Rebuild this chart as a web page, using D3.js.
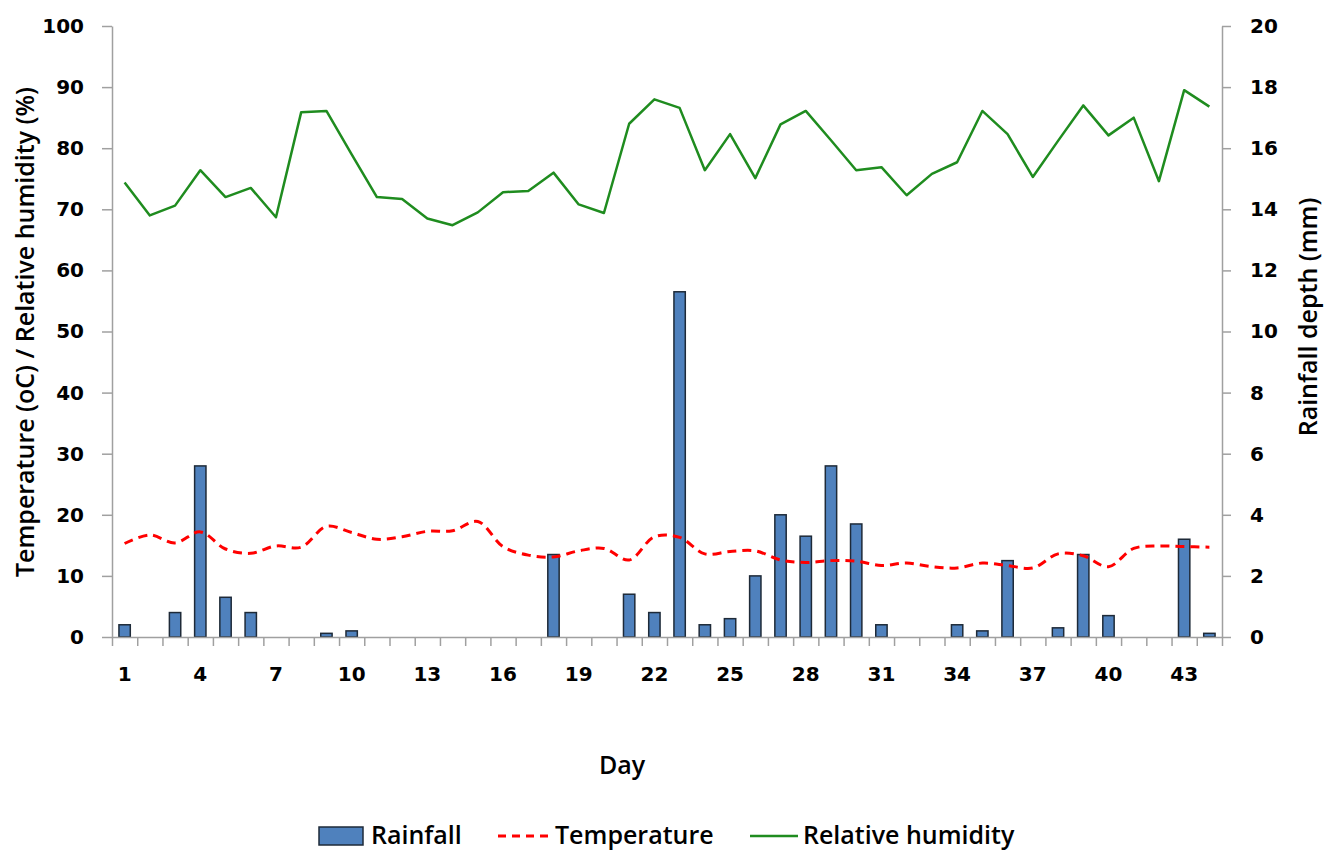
<!DOCTYPE html>
<html>
<head>
<meta charset="utf-8">
<script src="https://cdn.jsdelivr.net/npm/d3@7"></script>
<style>
  body { margin:0; background:#fff; }
  #chart { width:1325px; height:850px; }
</style>
</head>
<body>
<div id="chart"></div>
<script>
// daily values
var days = d3.range(1, 45);
var rainfall = [0.4,0,0.8,5.6,1.3,0.8,0,0,0.12,0.2,
                0,0,0,0,0,0,0,2.7,0,0,
                1.4,0.8,11.3,0.4,0.6,2.0,4.0,3.3,5.6,3.7,
                0.4,0,0,0.4,0.2,2.5,0,0.3,2.7,0.7,
                0,0,3.2,0.12];
var temperature = [15.3,16.7,15.4,17.2,14.4,13.7,14.9,14.7,18.1,17.1,
                   16.0,16.4,17.3,17.4,18.9,14.8,13.4,13.1,14.1,14.5,
                   12.6,16.4,16.3,13.6,14.0,14.1,12.6,12.2,12.5,12.4,
                   11.7,12.1,11.5,11.3,12.1,11.7,11.3,13.6,13.3,11.5,
                   14.5,14.9,14.8,14.7];
var humidity = [74.4,69.0,70.6,76.4,72.0,73.5,68.7,85.9,86.1,79.0,
                72.0,71.7,68.5,67.4,69.5,72.8,73.0,76.0,70.8,69.4,
                84.0,88.0,86.6,76.4,82.3,75.1,83.9,86.1,81.3,76.4,
                76.9,72.3,75.8,77.7,86.1,82.3,75.3,81.2,87.0,82.1,
                85.0,74.6,89.5,86.8];
var leftTicks = d3.range(0, 101, 10);
var rightTicks = d3.range(0, 21, 2);
var dayLabels = [1,4,7,10,13,16,19,22,25,28,31,34,37,40,43];

var W = 1325, H = 850;
var plotL = 112, plotR = 1222, plotT = 26, plotB = 637;
var axisColor = "#a0a0a0";
var tickFont = "'DejaVu Sans', Verdana, sans-serif";
var titleFont = "'Open Sans', 'Noto Sans', sans-serif";

var svg = d3.select("#chart").append("svg")
    .attr("width", W).attr("height", H);

var x = d3.scaleBand().domain(days).range([plotL, plotR]).padding(0);
var xEdge = d3.scaleLinear().domain([0, days.length]).range([plotL, plotR]);
var yL = d3.scaleLinear().domain([0, 100]).range([plotB, plotT]);
var yR = d3.scaleLinear().domain([0, 20]).range([plotB, plotT]);

// bars (right axis)
var barW = x.bandwidth() * 0.45;
svg.append("g").attr("class", "bars")
    .selectAll("rect")
    .data(days.map(function(d, i){ return {day:d, v:rainfall[i]}; })
              .filter(function(d){ return d.v > 0; }))
    .enter().append("rect")
    .attr("x", function(d){ return x(d.day) + (x.bandwidth() - barW) / 2; })
    .attr("y", function(d){ return yR(d.v); })
    .attr("width", barW)
    .attr("height", function(d){ return yR(0) - yR(d.v); })
    .style("fill", "#4f81bd")
    .style("stroke", "#1e2a38")
    .style("stroke-width", 1.5);

// axes
function styleAxis(g){
    g.select(".domain").attr("stroke", axisColor).attr("stroke-width", 1.5);
    g.selectAll(".tick line").attr("stroke", axisColor).attr("stroke-width", 1.5);
    g.selectAll("text").style("font-family", tickFont).style("font-weight", "bold")
        .style("font-size", "20px").attr("fill", "#000");
}

svg.append("g").attr("transform", "translate(" + plotL + ",0)")
    .call(d3.axisLeft(yL).tickValues(leftTicks).tickSize(10).tickPadding(18).tickSizeOuter(0))
    .call(styleAxis);

svg.append("g").attr("transform", "translate(" + plotR + ",0)")
    .call(d3.axisRight(yR).tickValues(rightTicks).tickSize(9).tickPadding(19).tickSizeOuter(0))
    .call(styleAxis);

svg.append("g").attr("transform", "translate(0," + plotB + ")")
    .call(d3.axisBottom(xEdge).tickValues(d3.range(0, days.length + 1)).tickFormat("").tickSize(9).tickSizeOuter(0))
    .call(styleAxis);

svg.append("g").attr("transform", "translate(0," + plotB + ")")
    .call(d3.axisBottom(x).tickValues(dayLabels).tickSize(0).tickPadding(30))
    .call(styleAxis)
    .call(function(g){ g.select(".domain").remove(); });

// lines
var tempLine = d3.line()
    .x(function(d, i){ return x(days[i]) + x.bandwidth() / 2; })
    .y(function(d){ return yL(d); })
    .curve(d3.curveCatmullRom.alpha(0.5));

var humLine = d3.line()
    .x(function(d, i){ return x(days[i]) + x.bandwidth() / 2; })
    .y(function(d){ return yL(d); });

svg.append("path").datum(temperature)
    .attr("d", tempLine)
    .style("fill", "none").style("stroke", "#ff0000")
    .style("stroke-width", 3).style("stroke-dasharray", "9,6");

svg.append("path").datum(humidity)
    .attr("d", humLine)
    .style("fill", "none").style("stroke", "#1f8c1f")
    .style("stroke-width", 2.5).style("stroke-linejoin", "round");

// titles
function title(sel){
    return sel.style("font-family", titleFont).style("font-weight", 600)
        .style("font-size", "25px").attr("fill", "#000");
}
svg.append("text").attr("transform", "translate(34,332) rotate(-90)")
    .attr("text-anchor", "middle").text("Temperature (oC) / Relative humidity (%)").call(title);
svg.append("text").attr("transform", "translate(1317,317) rotate(-90)")
    .attr("text-anchor", "middle").text("Rainfall depth (mm)").call(title);
svg.append("text").attr("x", 622).attr("y", 774)
    .attr("text-anchor", "middle").text("Day").call(title);

// legend
var lg = svg.append("g").attr("class", "legend");
var ly = 836;
lg.append("rect").attr("x", 319).attr("y", ly - 9).attr("width", 44).attr("height", 18)
    .style("fill", "#4f81bd").style("stroke", "#1e2a38").style("stroke-width", 1.5);
lg.append("text").attr("x", 371).attr("y", 844).text("Rainfall").call(title);
lg.append("line").attr("x1", 498).attr("x2", 552).attr("y1", ly).attr("y2", ly)
    .style("stroke", "#ff0000").style("stroke-width", 3).style("stroke-dasharray", "8,6");
lg.append("text").attr("x", 555).attr("y", 844).text("Temperature").call(title);
lg.append("line").attr("x1", 750).attr("x2", 798).attr("y1", ly).attr("y2", ly)
    .style("stroke", "#1f8c1f").style("stroke-width", 2.5);
lg.append("text").attr("x", 803).attr("y", 844).text("Relative humidity").call(title);
</script>
</body>
</html>
